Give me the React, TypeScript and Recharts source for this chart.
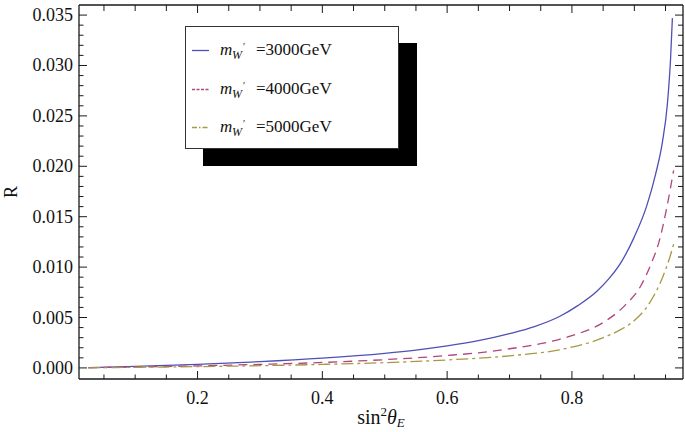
import React from 'react';
import { LineChart, Line, XAxis, YAxis, Legend, Label } from 'recharts';

// readings of R against sin^2(theta_E), one list per W' mass
const blueData = [
  { s: 0.025, r: 0.00003 }, { s: 0.1, r: 0.00016 }, { s: 0.2, r: 0.00036 },
  { s: 0.3, r: 0.00062 }, { s: 0.4, r: 0.00097 }, { s: 0.5, r: 0.00145 },
  { s: 0.55, r: 0.00177 }, { s: 0.6, r: 0.00218 }, { s: 0.65, r: 0.0027 },
  { s: 0.7, r: 0.0034 }, { s: 0.74, r: 0.0041 }, { s: 0.78, r: 0.0051 },
  { s: 0.81, r: 0.0062 }, { s: 0.84, r: 0.0076 }, { s: 0.86, r: 0.0089 },
  { s: 0.88, r: 0.0106 }, { s: 0.9, r: 0.013 }, { s: 0.92, r: 0.0161 },
  { s: 0.934, r: 0.0192 }, { s: 0.945, r: 0.0224 }, { s: 0.953, r: 0.0262 },
  { s: 0.958, r: 0.0306 }, { s: 0.961, r: 0.0347 },
];

const purpleData = [
  { s: 0.025, r: 0.00002 }, { s: 0.1, r: 0.00009 }, { s: 0.2, r: 0.0002 },
  { s: 0.3, r: 0.00035 }, { s: 0.4, r: 0.00054 }, { s: 0.5, r: 0.00082 },
  { s: 0.55, r: 0.001 }, { s: 0.6, r: 0.00123 }, { s: 0.65, r: 0.0015 },
  { s: 0.7, r: 0.0019 }, { s: 0.75, r: 0.0024 }, { s: 0.78, r: 0.00284 },
  { s: 0.8, r: 0.0032 }, { s: 0.85, r: 0.0045 }, { s: 0.885, r: 0.0062 },
  { s: 0.91, r: 0.0081 }, { s: 0.926, r: 0.0102 }, { s: 0.94, r: 0.0126 },
  { s: 0.952, r: 0.0159 }, { s: 0.963, r: 0.0196 },
];

const oliveData = [
  { s: 0.025, r: 0.00001 }, { s: 0.1, r: 0.00006 }, { s: 0.2, r: 0.00013 },
  { s: 0.3, r: 0.00022 }, { s: 0.4, r: 0.00035 }, { s: 0.5, r: 0.00052 },
  { s: 0.55, r: 0.00064 }, { s: 0.6, r: 0.00079 }, { s: 0.7, r: 0.0012 },
  { s: 0.78, r: 0.0018 }, { s: 0.846, r: 0.0029 }, { s: 0.878, r: 0.0038 },
  { s: 0.9, r: 0.0047 }, { s: 0.925, r: 0.0065 }, { s: 0.946, r: 0.0091 },
  { s: 0.957, r: 0.011 }, { s: 0.964, r: 0.0125 },
];

const seriesNames = ['3000GeV', '4000GeV', '5000GeV'];
const seriesColors = ['#4f4fb6', '#b0457f', '#a89845'];
const seriesDash = ['', '9 6', '12 4 3 4'];
const legendDash = ['', '3 1.5', '5 2 1.5 2'];
const xMajor = [0.2, 0.4, 0.6, 0.8];
const yMajor = [0, 0.005, 0.01, 0.015, 0.02, 0.025, 0.03, 0.035];
const xTicks = Array.from({ length: 19 }, (_, i) => +(0.05 * (i + 1)).toFixed(2));
const yTicks = Array.from({ length: 36 }, (_, i) => +(0.001 * i).toFixed(3));

const FONT = '"Liberation Serif", "Times New Roman", serif';
const INK = '#1a1a1a';

const isMajor = (v: number, list: number[]) => list.some((m) => Math.abs(m - v) < 1e-9);

const BottomTick = (p: any) => {
  const major = isMajor(p.payload.value, xMajor);
  return (
    <g>
      <line x1={p.x} x2={p.x} y1={p.y} y2={p.y - (major ? 8 : 4.5)} stroke={INK} strokeWidth={1} />
      {major && (
        <text x={p.x} y={p.y + 25} textAnchor="middle" fontFamily={FONT} fontSize={18} fill="#111">
          {p.payload.value.toFixed(1)}
        </text>
      )}
    </g>
  );
};

const TopTick = (p: any) => {
  const major = isMajor(p.payload.value, xMajor);
  return <line x1={p.x} x2={p.x} y1={p.y} y2={p.y + (major ? 8 : 6)} stroke={INK} strokeWidth={1} />;
};

const LeftTick = (p: any) => {
  const major = isMajor(p.payload.value, yMajor);
  return (
    <g>
      <line x1={p.x} x2={p.x + (major ? 8 : 4.5)} y1={p.y} y2={p.y} stroke={INK} strokeWidth={1} />
      {major && (
        <text x={p.x - 6} y={p.y + 6} textAnchor="end" fontFamily={FONT} fontSize={18} fill="#111">
          {p.payload.value.toFixed(3)}
        </text>
      )}
    </g>
  );
};

const RightTick = (p: any) => {
  const major = isMajor(p.payload.value, yMajor);
  return <line x1={p.x} x2={p.x - (major ? 8 : 5)} y1={p.y} y2={p.y} stroke={INK} strokeWidth={1} />;
};

const LegendBox = () => (
  <svg width={240} height={150} style={{ display: 'block' }}>
    <rect x={18} y={17} width={214} height={123} fill="#000" />
    <rect x={0.5} y={0.5} width={213} height={122} fill="#fff" stroke="#333" strokeWidth={1} />
    {seriesNames.map((name, i) => {
      const yb = 29 + i * 38.5;
      const ys = Math.round(yb - 5) + 0.5;
      return (
        <g key={name}>
          <line x1={7} x2={24} y1={ys} y2={ys} stroke={seriesColors[i]} strokeWidth={1.3}
            strokeDasharray={legendDash[i] || undefined} />
          <text y={yb} fontFamily={FONT} fontSize={17} fill="#111">
            <tspan x={35} fontStyle="italic">m</tspan>
            <tspan x={47} dy={4} fontStyle="italic" fontSize={12}>W</tspan>
            <tspan x={58} dy={-9} fontSize={10}>′</tspan>
            <tspan x={71} dy={5}>={name}</tspan>
          </text>
        </g>
      );
    })}
  </svg>
);

const axisLine = { stroke: INK, strokeWidth: 1.3 };
const allSeries = [blueData, purpleData, oliveData];

export default function App() {
  return (
    <div style={{ position: 'absolute', left: 0, top: 0, width: 685, height: 432, background: '#fff' }}>
      <LineChart width={685} height={432} margin={{ top: 4, right: 1, bottom: 52, left: 78 }}>
        <XAxis xAxisId="b" dataKey="s" type="number" domain={[0.01, 0.978]} allowDataOverflow
          orientation="bottom" height={1} ticks={xTicks} interval={0} tickSize={0} tickMargin={0}
          tickLine={false} tick={<BottomTick />} axisLine={axisLine}>
          <Label content={(lp: any) => {
            const vb = lp.viewBox;
            const cx = vb.x + vb.width / 2;
            return (
              <text x={cx} y={vb.y + 45} textAnchor="middle" fontFamily={FONT} fontSize={20} fill="#111">
                sin<tspan dy={-8} fontSize={13}>2</tspan>
                <tspan dy={8} fontStyle="italic">θ</tspan>
                <tspan dy={3} fontStyle="italic" fontSize={13}>E</tspan>
              </text>
            );
          }} />
        </XAxis>
        <XAxis xAxisId="t" dataKey="s" type="number" domain={[0.01, 0.978]} allowDataOverflow
          orientation="top" height={1} ticks={xTicks} interval={0} tickSize={0} tickMargin={0}
          tickLine={false} tick={<TopTick />} axisLine={axisLine} />
        <YAxis yAxisId="l" type="number" domain={[-0.0011, 0.036]} allowDataOverflow
          orientation="left" width={1} ticks={yTicks} interval={0} tickSize={0} tickMargin={0}
          tickLine={false} tick={<LeftTick />} axisLine={axisLine}>
          <Label content={(lp: any) => {
            const vb = lp.viewBox;
            const x = 17;
            const y = vb.y + vb.height / 2;
            return (
              <text x={x} y={y} transform={`rotate(-90 ${x} ${y})`} textAnchor="middle"
                fontFamily={FONT} fontSize={18} fill="#111">R</text>
            );
          }} />
        </YAxis>
        <YAxis yAxisId="r" type="number" domain={[-0.0011, 0.036]} allowDataOverflow
          orientation="right" width={1} ticks={yTicks} interval={0} tickSize={0} tickMargin={0}
          tickLine={false} tick={<RightTick />} axisLine={axisLine} />
        <Legend layout="horizontal" verticalAlign="middle" align="center"
          wrapperStyle={{ position: 'absolute', left: 185, top: 26, width: 240, height: 150 }}
          content={<LegendBox />} />
        {allSeries.map((d, i) => (
          <Line key={seriesNames[i]} xAxisId="b" yAxisId="l" data={d} dataKey="r" name={seriesNames[i]}
            type="monotone" stroke={seriesColors[i]} strokeWidth={1.3}
            strokeDasharray={seriesDash[i] || undefined} dot={false} isAnimationActive={false} />
        ))}
      </LineChart>
    </div>
  );
}
